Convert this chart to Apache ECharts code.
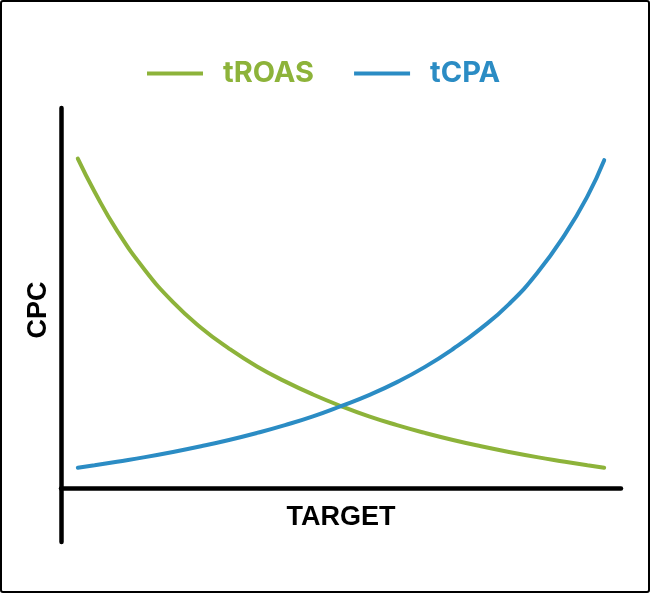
<!DOCTYPE html>
<html>
<head>
<meta charset="utf-8">
<script src="https://cdn.jsdelivr.net/npm/echarts@6/dist/echarts.min.js"></script>
<style>
html,body{margin:0;padding:0;background:#fff;}
#wrap{position:relative;width:650px;height:593px;}
#chart{position:absolute;left:0;top:0;width:650px;height:593px;}
#frame{position:absolute;left:0;top:0;width:650px;height:593px;box-sizing:border-box;border:2px solid #000;border-radius:3px;pointer-events:none;}
</style>
</head>
<body>
<div id="wrap"><div id="chart"></div><div id="frame"></div></div>
<script>
// Target positions (x) shared by both curves
var target = [3, 6, 10, 15, 20, 25, 30, 35, 40, 45, 50, 55, 60, 65, 70, 75, 80, 85, 90, 94, 97];
// CPC readings
var troas = [86.7, 78.0, 67.8, 57.4, 49.0, 42.3, 36.8, 32.1, 28.2, 24.75, 21.7, 19.0, 16.7, 14.65, 12.8, 11.15, 9.65, 8.3, 7.1, 6.15, 5.5];
var tcpa  = [5.5, 6.15, 7.1, 8.3, 9.65, 11.15, 12.8, 14.65, 16.7, 19.0, 21.7, 24.6, 28.0, 32.0, 36.7, 42.1, 48.5, 56.6, 66.8, 76.8, 86.3];
var seriesNames = ['tROAS', 'tCPA'];
var colors = ['#8db33a', '#2b8cc4'];

function pairs(xs, ys){ return xs.map(function(x,i){ return [x, ys[i]]; }); }

var chart = echarts.init(document.getElementById('chart'), null, {renderer:'canvas'});
var axisLineStyle = {color:'#000', width:4.5, cap:'round'};
chart.setOption({
  animation:false,
  backgroundColor:'#fff',
  legend:{
    left:142, top:54,
    icon:'rect', itemWidth:56, itemHeight:4, itemGap:40,
    textStyle:{fontFamily:'Inter', fontWeight:'bold', fontSize:29, padding:[0,0,0,15]},
    data:[
      {name:seriesNames[0], textStyle:{color:colors[0]}},
      {name:seriesNames[1], textStyle:{color:colors[1]}}
    ]
  },
  grid:{left:61, right:29, top:108, bottom:51, outerBoundsMode:'none', containLabel:false},
  xAxis:{
    type:'value', min:0, max:100,
    axisLine:{show:true, onZero:true, lineStyle:axisLineStyle},
    axisTick:{show:false}, axisLabel:{show:false}, splitLine:{show:false},
    name:'TARGET', nameLocation:'middle', nameGap:-38,
    nameTextStyle:{fontFamily:'Liberation Sans', fontWeight:'bold', fontSize:27, color:'#000'}
  },
  yAxis:{
    type:'value', min:-14, max:100,
    axisLine:{show:true, lineStyle:axisLineStyle},
    axisTick:{show:false}, axisLabel:{show:false}, splitLine:{show:false},
    name:'CPC', nameLocation:'middle', nameGap:9, nameRotate:90,
    nameTextStyle:{fontFamily:'Liberation Sans', fontWeight:'bold', fontSize:27, color:'#000', padding:[0,0,0,30]}
  },
  series:[
    {name:seriesNames[0], type:'line', smooth:0.5, showSymbol:false, symbol:'none',
     lineStyle:{color:colors[0], width:4, cap:'round'}, itemStyle:{color:colors[0]},
     data:pairs(target, troas)},
    {name:seriesNames[1], type:'line', smooth:0.5, showSymbol:false, symbol:'none',
     lineStyle:{color:colors[1], width:4, cap:'round'}, itemStyle:{color:colors[1]},
     data:pairs(target, tcpa)}
  ]
});
</script>
</body>
</html>
